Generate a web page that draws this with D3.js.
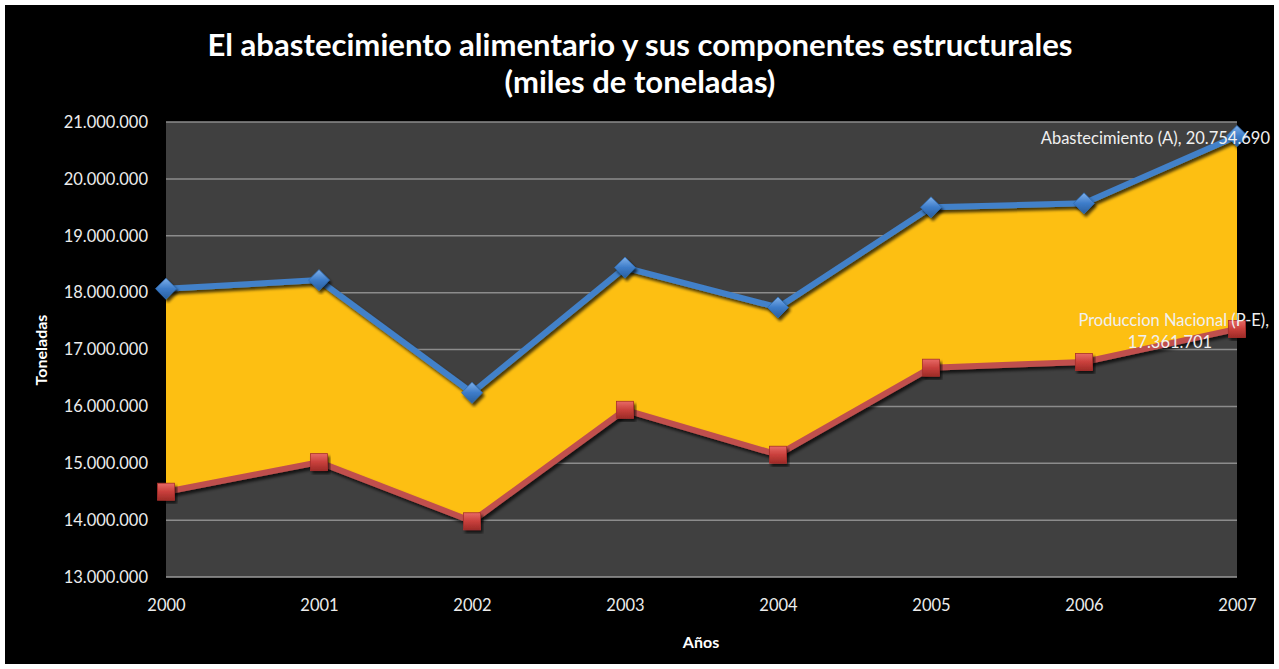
<!DOCTYPE html>
<html>
<head>
<meta charset="utf-8">
<script src="https://cdn.jsdelivr.net/npm/d3@7"></script>
<style>
  body { margin: 0; background: #fff; }
  svg { display: block; }
</style>
</head>
<body>
<div id="chart"></div>
<script>
// data
var years = ["2000", "2001", "2002", "2003", "2004", "2005", "2006", "2007"];
var abastecimiento = [18070000, 18220000, 16240000, 18440000, 17740000, 19500000, 19570000, 20754690];
var produccion = [14500000, 15020000, 13980000, 15940000, 15150000, 16680000, 16780000, 17361701];
var yTicks = [13000000, 14000000, 15000000, 16000000, 17000000, 18000000, 19000000, 20000000, 21000000];

var svgWidth = 1279;
var svgHeight = 669;

var plot = { left: 166, right: 1237, top: 122, bottom: 577 };

var fmt = d3.formatLocale({ decimal: ",", thousands: ".", grouping: [3], currency: ["", ""] }).format(",d");

var svg = d3.select("#chart")
  .append("svg")
  .attr("width", svgWidth)
  .attr("height", svgHeight);

// black frame
svg.append("rect")
  .attr("x", 5).attr("y", 5)
  .attr("width", 1269).attr("height", 659)
  .attr("fill", "#000");

var xScale = d3.scalePoint().domain(years).range([plot.left, plot.right]);
var yScale = d3.scaleLinear().domain([13000000, 21000000]).range([plot.bottom, plot.top]);

// defs: shadow + marker gradients
var defs = svg.append("defs");
var filter = defs.append("filter")
  .attr("id", "shadow")
  .attr("x", "-10%").attr("y", "-10%")
  .attr("width", "130%").attr("height", "130%");
filter.append("feDropShadow")
  .attr("dx", 2).attr("dy", 3)
  .attr("stdDeviation", 1.5)
  .attr("flood-color", "#000")
  .attr("flood-opacity", 0.7);

var gBlue = defs.append("linearGradient").attr("id", "gBlue")
  .attr("x1", 0).attr("y1", 0).attr("x2", 0).attr("y2", 1);
gBlue.append("stop").attr("offset", "0%").attr("stop-color", "#7fb0ea");
gBlue.append("stop").attr("offset", "50%").attr("stop-color", "#3d7cc9");
gBlue.append("stop").attr("offset", "100%").attr("stop-color", "#2a5f9e");

var gRed = defs.append("linearGradient").attr("id", "gRed")
  .attr("x1", 0).attr("y1", 0).attr("x2", 0).attr("y2", 1);
gRed.append("stop").attr("offset", "0%").attr("stop-color", "#e86a66");
gRed.append("stop").attr("offset", "50%").attr("stop-color", "#c9403c");
gRed.append("stop").attr("offset", "100%").attr("stop-color", "#9e2b28");

// plot background
svg.append("rect")
  .attr("x", plot.left).attr("y", plot.top)
  .attr("width", plot.right - plot.left)
  .attr("height", plot.bottom - plot.top)
  .attr("fill", "#404040");

// gridlines
svg.append("g")
  .selectAll("line")
  .data(yTicks)
  .enter()
  .append("line")
  .attr("x1", plot.left).attr("x2", plot.right)
  .attr("y1", d => yScale(d)).attr("y2", d => yScale(d))
  .attr("stroke", d => d === 13000000 ? "#9a9a9a" : "#8c8c8c")
  .attr("stroke-width", 1.5);

var font = "Lato, 'Open Sans', sans-serif";

// y axis labels
var leftAxis = d3.axisLeft(yScale).tickValues(yTicks).tickFormat(fmt).tickSize(0).tickPadding(18);
var yAxisG = svg.append("g")
  .attr("transform", "translate(" + plot.left + ",0)")
  .call(leftAxis);
yAxisG.select(".domain").remove();
yAxisG.selectAll("text")
  .attr("fill", "#ececec")
  .style("font-family", font)
  .style("font-size", "16.5px");

// x axis labels
var bottomAxis = d3.axisBottom(xScale).tickSize(0).tickPadding(22);
var xAxisG = svg.append("g")
  .attr("transform", "translate(0," + plot.bottom + ")")
  .call(bottomAxis);
xAxisG.select(".domain").remove();
xAxisG.selectAll("text")
  .attr("fill", "#ececec")
  .style("font-family", font)
  .style("font-size", "16.5px");

// yellow band between the two series
var band = d3.area()
  .x((d, i) => xScale(years[i]))
  .y0((d, i) => yScale(produccion[i]))
  .y1((d, i) => yScale(abastecimiento[i]));

svg.append("path")
  .datum(years)
  .attr("d", band)
  .attr("fill", "#fdbf12");

var line = d3.line()
  .x(d => xScale(d.year))
  .y(d => yScale(d.value));

var blueData = years.map((y, i) => ({ year: y, value: abastecimiento[i] }));
var redData = years.map((y, i) => ({ year: y, value: produccion[i] }));

svg.append("path")
  .datum(redData)
  .attr("d", line)
  .attr("fill", "none")
  .attr("stroke", "#c0504d")
  .attr("stroke-width", 6)
  .attr("stroke-linejoin", "round")
  .style("filter", "url(#shadow)");

svg.append("path")
  .datum(blueData)
  .attr("d", line)
  .attr("fill", "none")
  .attr("stroke", "#4281c9")
  .attr("stroke-width", 6)
  .attr("stroke-linejoin", "round")
  .style("filter", "url(#shadow)");

// markers
var sq = 17;
svg.append("g")
  .selectAll("rect")
  .data(redData)
  .enter()
  .append("rect")
  .attr("x", d => xScale(d.year) - sq / 2)
  .attr("y", d => yScale(d.value) - sq / 2)
  .attr("width", sq).attr("height", sq)
  .attr("fill", "url(#gRed)")
  .attr("stroke", "#a8302c")
  .attr("stroke-width", 0.8)
  .style("filter", "url(#shadow)");

var dm = 10.5;
svg.append("g")
  .selectAll("path")
  .data(blueData)
  .enter()
  .append("path")
  .attr("d", d => {
    var cx = xScale(d.year), cy = yScale(d.value);
    return "M" + cx + "," + (cy - dm) + "L" + (cx + dm) + "," + cy + "L" + cx + "," + (cy + dm) + "L" + (cx - dm) + "," + cy + "Z";
  })
  .attr("fill", "url(#gBlue)")
  .attr("stroke", "#2f6cb3")
  .attr("stroke-width", 0.8)
  .style("filter", "url(#shadow)");

// data labels on last point
svg.append("text")
  .attr("x", 1270).attr("y", 144)
  .attr("text-anchor", "end")
  .attr("fill", "#f0f0f0")
  .style("font-family", font)
  .style("font-size", "16.5px")
  .text("Abastecimiento (A), " + fmt(abastecimiento[7]));

svg.append("text")
  .attr("x", 1269).attr("y", 326)
  .attr("text-anchor", "end")
  .attr("fill", "#f0f0f0")
  .style("font-family", font)
  .style("font-size", "16.5px")
  .text("Produccion Nacional (P-E),");

svg.append("text")
  .attr("x", 1170).attr("y", 348)
  .attr("text-anchor", "middle")
  .attr("fill", "#f0f0f0")
  .style("font-family", font)
  .style("font-size", "16.5px")
  .text(fmt(produccion[7]));

// title
var title = svg.append("text")
  .attr("x", 640)
  .attr("text-anchor", "middle")
  .attr("fill", "#fff")
  .style("font-family", font)
  .style("font-weight", "bold")
  .style("font-size", "31px");
title.append("tspan").attr("x", 640).attr("y", 56)
  .attr("textLength", 865).attr("lengthAdjust", "spacingAndGlyphs")
  .text("El abastecimiento alimentario y sus componentes estructurales");
title.append("tspan").attr("x", 640).attr("y", 93)
  .text("(miles de toneladas)");

// axis titles
svg.append("text")
  .attr("transform", "translate(47,350) rotate(-90)")
  .attr("text-anchor", "middle")
  .attr("fill", "#fff")
  .style("font-family", font)
  .style("font-weight", "bold")
  .style("font-size", "16px")
  .text("Toneladas");

svg.append("text")
  .attr("x", 701).attr("y", 648)
  .attr("text-anchor", "middle")
  .attr("fill", "#fff")
  .style("font-family", font)
  .style("font-weight", "bold")
  .style("font-size", "16px")
  .text("Años");
</script>
</body>
</html>
